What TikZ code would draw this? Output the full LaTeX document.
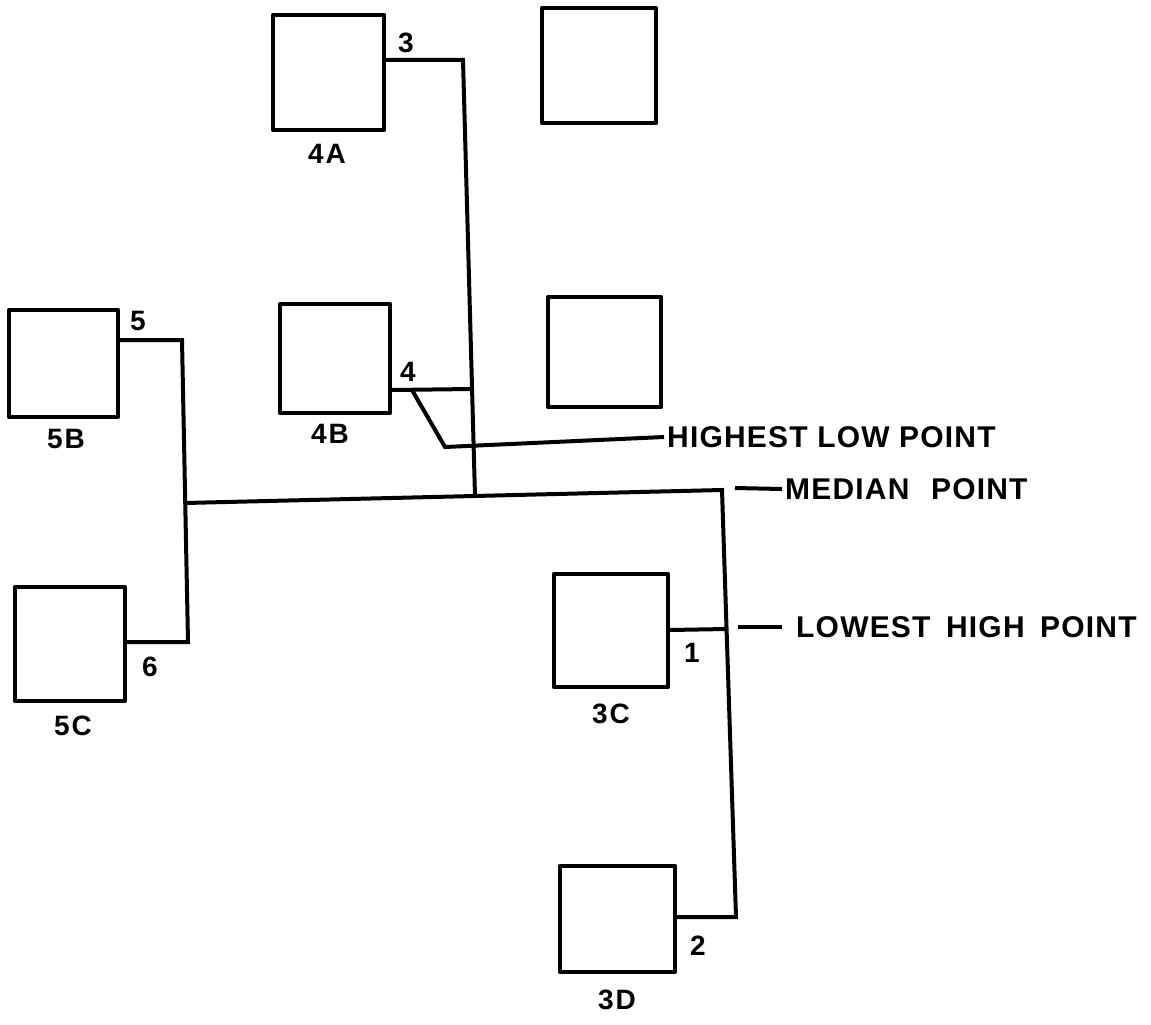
\documentclass[tikz,border=0pt]{standalone}
\usepackage{fontspec}
\newfontfamily\labfont{Liberation Sans}[LetterSpace=7]
\newfontfamily\notefont{Liberation Sans}[LetterSpace=4]
\begin{document}
\begin{tikzpicture}[x=1pt,y=-1pt,
  box/.style={draw, line width=4.4pt, inner sep=0pt, line join=round},
  conn/.style={line width=4pt, line join=miter, line cap=butt},
  lbl/.style={inner sep=0pt, font=\labfont\bfseries\fontsize{28}{30}\selectfont},
  note/.style={inner sep=0pt, anchor=west, font=\notefont\bfseries\fontsize{30}{32}\selectfont}]
\useasboundingbox (0,0) rectangle (1151,1025);
% boxes
\node[box, minimum width=111pt, minimum height=115pt] (b4A) at (328.5,72.5) {};
\node[box, minimum width=114pt, minimum height=115pt] (bTR) at (599,65.5) {};
\node[box, minimum width=109pt, minimum height=107pt] (b5B) at (63.5,363.5) {};
\node[box, minimum width=110pt, minimum height=109pt] (b4B) at (335,358.5) {};
\node[box, minimum width=113pt, minimum height=110pt] (bMR) at (604.5,352) {};
\node[box, minimum width=110pt, minimum height=114pt] (b5C) at (70,644) {};
\node[box, minimum width=114pt, minimum height=113pt] (b3C) at (611,630.5) {};
\node[box, minimum width=115pt, minimum height=106pt] (b3D) at (617.5,919) {};
% box labels
\node[lbl] (t4A) at (327,154) {4A};
\node[lbl] (t4B) at (330,434) {4B};
\node[lbl] (t5B) at (66,439) {5B};
\node[lbl] (t5C) at (73,726) {5C};
\node[lbl] (t3C) at (611,714) {3C};
\node[lbl] (t3D) at (617,1000) {3D};
% numbers
\node[lbl] (n3) at (406,43) {3};
\node[lbl] (n4) at (408,372) {4};
\node[lbl] (n5) at (138,321) {5};
\node[lbl] (n6) at (150,667) {6};
\node[lbl] (n1) at (692,653) {1};
\node[lbl] (n2) at (698,946) {2};
% notes
\node[note] (hlp) at (667,437) {HIGHEST LOW POINT};
\node[note] (med) at (785,489) {MEDIAN\hspace{12pt} POINT};
\node[note] (lhp) at (796,627) {LOWEST\hspace{6pt} HIGH\hspace{6pt} POINT};
% junctions
\coordinate (j3) at (463,60);
\coordinate (j4) at (472,389);
\coordinate (jm) at (475,496);
\coordinate (mL) at (185,503);
\coordinate (mR) at (722,490);
\coordinate (k5) at (182,340);
\coordinate (k6) at (188,642);
\coordinate (j1) at (726.5,629);
\coordinate (k2) at (736,917);
\coordinate (d4) at (412,390);
\coordinate (d4b) at (445,447);
\coordinate (dm) at (735,488);
\coordinate (dl) at (738,627);
% connectors
\draw[conn] (b4A.east |- 0,60) -- (j3) -- (jm);
\draw[conn] (b4B.east |- 0,390) -- (j4);
\draw[conn] (d4) -- (d4b) -- ([xshift=-3pt]hlp.west);
\draw[conn] (b5B.east |- 0,340) -- (k5) -- (k6) -- (b5C.east |- 0,642);
\draw[conn] (mL) -- (mR) -- (k2) -- (b3D.east |- 0,917);
\draw[conn] (b3C.east |- 0,630) -- (j1);
\draw[conn] (dm) -- ([xshift=-3pt]med.west);
\draw[conn] (dl) -- ([xshift=-14pt]lhp.west);
\end{tikzpicture}
\end{document}
